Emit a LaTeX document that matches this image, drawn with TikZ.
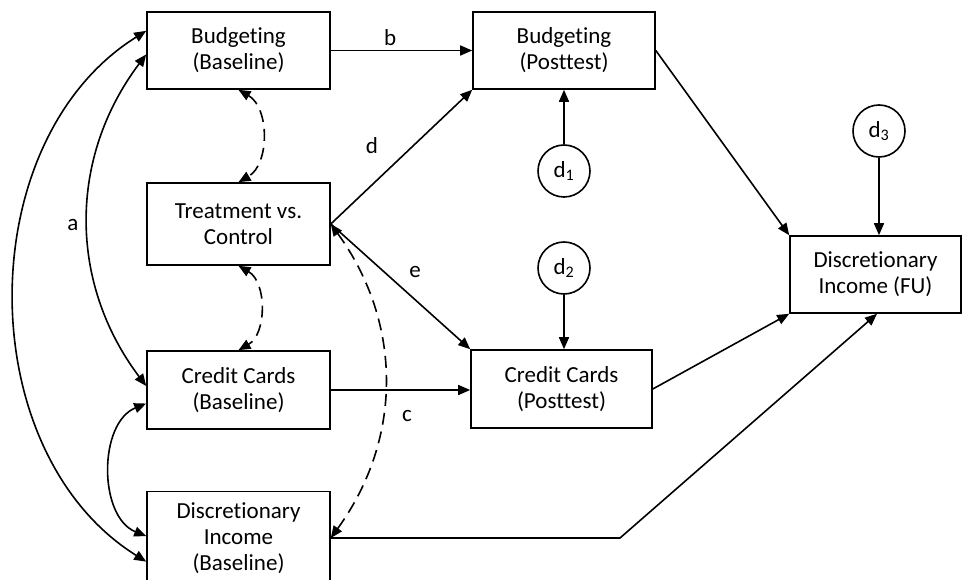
\documentclass[tikz,border=0pt]{standalone}
\usepackage{fontspec}
\setmainfont{Carlito}[Ligatures={NoCommon}]
\usetikzlibrary{arrows.meta,calc}
\begin{document}
\begin{tikzpicture}[x=1pt,y=1pt,
  every node/.style={font=\fontsize{23}{26}\selectfont},
  box/.style={draw,line width=1.6pt,align=center,inner sep=2pt,minimum width=183pt,minimum height=77pt},
  circ/.style={draw,circle,line width=1.6pt,minimum size=52pt,inner sep=0pt},
  conn/.style={line width=1.6pt,-{Triangle[length=12pt,width=10pt]}},
  biconn/.style={line width=1.6pt,{Triangle[length=12pt,width=10pt]}-{Triangle[length=12pt,width=10pt]}},
  dashconn/.style={biconn,dash pattern=on 12pt off 7pt}]
\useasboundingbox (0,0) rectangle (962,579);
\node[box] (bb) at (238.5,528.5) {Budgeting\\(Baseline)};
\node[box,minimum height=82pt] (tvc) at (238.5,355) {Treatment vs.\\Control};
\node[box,minimum height=78pt] (ccb) at (238.5,189) {Credit Cards\\(Baseline)};
\node[box,minimum height=93pt] (dib) at (238.5,41) {Discretionary\\Income\\(Baseline)};
\node[box,minimum width=182pt] (bp) at (564,528.5) {Budgeting\\(Posttest)};
\node[box,minimum width=181pt,minimum height=78pt] (ccp) at (561.5,190) {Credit Cards\\(Posttest)};
\node[box,minimum width=171pt] (difu) at (875.5,304.5) {Discretionary\\Income (FU)};
\node[circ] (d1) at (564,408) {d\textsubscript{1}};
\node[circ] (d2) at (564,311) {d\textsubscript{2}};
\node[circ] (d3) at (879,448) {d\textsubscript{3}};
% directed paths
\draw[conn] (bb.east) -- node[pos=0.42,above=1pt] (lb) {b} (bp.west);
\draw[conn] (tvc.east) -- (bp.south west);
\draw[conn] (tvc.east) -- (ccp.north west);
\draw[conn] (ccb.east) -- (ccb.east -| ccp.west);
\node (ld) at (372,433) {d};
\node (le) at (415,307) {e};
\node (lc) at (407,163) {c};
\draw[conn] (d1.north) -- (d1.north |- bp.south);
\draw[conn] (d2.south) -- (d2.south |- ccp.north);
\draw[conn] (d3.south) -- (d3.south |- difu.north);
\draw[conn] (bp.east) -- (difu.north west);
\draw[conn] (ccp.east) -- (difu.south west);
\coordinate (bend) at (620,41);
\draw[conn] (dib.east) -- (bend) -- ([xshift=1.5pt]difu.south);
% correlations
\draw[dashconn] (bb.south) to[bend left=60] (tvc.north);
\draw[dashconn] (tvc.south) to[bend left=60] (ccb.north);
\draw[dashconn] (tvc.east) to[bend left=36] (dib.east);
\draw[biconn] ($(bb.north west)!0.55!(bb.south west)$) to[bend right=37] ($(ccb.north west)!0.45!(ccb.south west)$);
\node (la) at (73,354) {a};
\draw[biconn] ($(bb.north west)!0.25!(bb.south west)$) to[bend right=58] ($(dib.north west)!0.75!(dib.south west)$);
\draw[biconn] ($(ccb.north west)!0.67!(ccb.south west)$) to[bend right=68] ($(dib.north west)!0.48!(dib.south west)$);
\end{tikzpicture}
\end{document}
